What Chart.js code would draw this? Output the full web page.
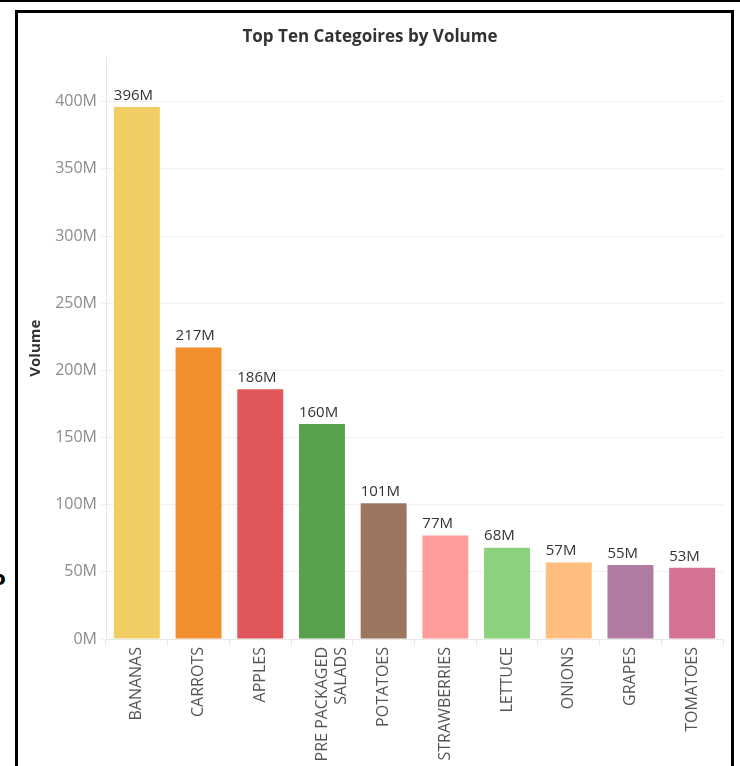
<!DOCTYPE html>
<html><head><meta charset="utf-8">
<script src="https://cdn.jsdelivr.net/npm/chart.js@4"></script>
<style>
html,body{margin:0;padding:0;background:#fff;}
#wrap{position:relative;width:740px;height:766px;overflow:hidden;background:#fff;}
#topline{position:absolute;left:0;top:0;width:740px;height:2px;background:#000;}
#box{position:absolute;left:15px;top:10px;width:719px;height:800px;border:3px solid #000;border-bottom:none;box-sizing:border-box;}
#stray{position:absolute;left:-8px;top:566px;font:bold 20px "DejaVu Sans";color:#000;}
canvas{position:absolute;left:0;top:0;}
</style></head>
<body>
<div id="wrap">
<div id="topline"></div>
<div id="box"></div>
<div id="stray">o</div>
<canvas id="c" width="740" height="766"></canvas>
</div>
<script>
const categories = ["BANANAS","CARROTS","APPLES",["PRE PACKAGED","SALADS"],"POTATOES","STRAWBERRIES","LETTUCE","ONIONS","GRAPES","TOMATOES"];
const volumes = [396, 217, 186, 160, 101, 77, 68, 57, 55, 53]; // millions
const barColors = ["#F1CE63","#F28E2B","#E15759","#59A14F","#9D7660","#FF9D9A","#8CD17D","#FFBE7D","#B07AA1","#D37295"];
const chartTitle = "Top Ten Categoires by Volume";
const yTitle = "Volume";

const valueLabels = {
  id: 'valueLabels',
  afterDatasetsDraw(chart) {
    const ctx = chart.ctx;
    const meta = chart.getDatasetMeta(0);
    ctx.save();
    ctx.font = '15px "Open Sans"';
    ctx.fillStyle = '#333333';
    ctx.textAlign = 'left';
    ctx.textBaseline = 'bottom';
    meta.data.forEach((bar, i) => {
      const p = bar.getProps(['x','y','width'], true);
      ctx.fillText(volumes[i] + 'M', p.x - p.width / 2, p.y - 4);
    });
    ctx.restore();
  }
};

new Chart(document.getElementById('c'), {
  type: 'bar',
  data: {
    labels: categories,
    datasets: [{
      data: volumes,
      backgroundColor: barColors,
      borderWidth: 0,
      barPercentage: 0.745,
      categoryPercentage: 1.0
    }]
  },
  options: {
    responsive: false,
    animation: false,
    layout: { padding: { left: 17, right: 17, top: 0, bottom: 0 } },
    plugins: {
      legend: { display: false },
      tooltip: { enabled: false },
      title: {
        display: true,
        text: chartTitle,
        color: '#333333',
        font: { family: 'Open Sans', size: 17, weight: 'bold' },
        padding: { top: 27, bottom: 10 }
      }
    },
    scales: {
      y: {
        min: 0,
        max: 433,
        afterFit: s => { s.width = 89; },
        ticks: {
          stepSize: 50,
          includeBounds: false,
          callback: v => v + 'M',
          color: '#8c8c8c',
          font: { family: 'Open Sans', size: 16 },
          padding: 4
        },
        grid: { color: '#f0f0f0', tickLength: 5 },
        border: { color: '#e4e4e4' },
        title: {
          display: true,
          text: yTitle,
          color: '#333333',
          font: { family: 'Open Sans', size: 15, weight: 'bold' },
          padding: { top: 10, bottom: 0 }
        }
      },
      x: {
        afterFit: s => { s.height = 127; },
        ticks: {
          maxRotation: 90,
          minRotation: 90,
          autoSkip: false,
          color: '#555555',
          font: { family: 'Open Sans', size: 16 },
          padding: 1
        },
        grid: { drawOnChartArea: false, offset: true, tickLength: 7, color: '#e8e8e8' },
        border: { color: '#e8e8e8' }
      }
    }
  },
  plugins: [valueLabels]
});
</script>
</body></html>
